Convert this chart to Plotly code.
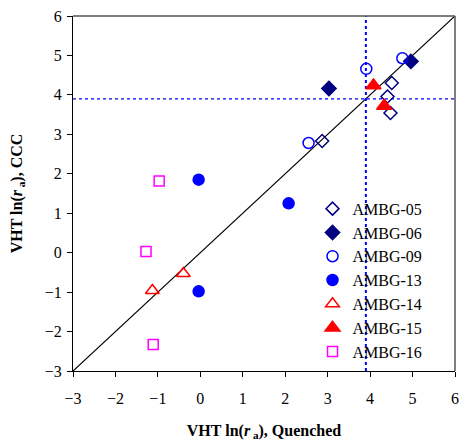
import plotly.graph_objects as go

# Sample data: VHT ln(r_a) quenched (x) vs CCC (y)
names = ["AMBG-05", "AMBG-06", "AMBG-09", "AMBG-13", "AMBG-14", "AMBG-15", "AMBG-16"]
x05 = [2.87, 4.41, 4.51, 4.48]
y05 = [2.83, 3.96, 4.30, 3.54]
x06 = [3.03, 4.96]
y06 = [4.16, 4.85]
x09 = [2.55, 3.91, 4.76]
y09 = [2.78, 4.66, 4.93]
x13 = [-0.04, -0.04, 2.08]
y13 = [1.85, -0.98, 1.25]
x14 = [-1.13, -0.40]
y14 = [-0.96, -0.53]
x15 = [4.08, 4.33]
y15 = [4.24, 3.72]
x16 = [-0.97, -1.28, -1.11]
y16 = [1.82, 0.03, -2.33]
threshold = 3.9
tick_vals = [-3, -2, -1, 0, 1, 2, 3, 4, 5, 6]

series = [
    (x05, y05, "diamond-open", "#000080", 10),
    (x06, y06, "diamond", "#000080", 11),
    (x09, y09, "circle-open", "#0000FF", 11),
    (x13, y13, "circle", "#0000FF", 11),
    (x14, y14, "triangle-up-open", "#FF0000", 12),
    (x15, y15, "triangle-up", "#FF0000", 13),
    (x16, y16, "square-open", "#FF00FF", 10),
]

fig = go.Figure()

# 1:1 line
fig.add_trace(go.Scatter(x=[-3, 6], y=[-3, 6], mode="lines",
                         line=dict(color="black", width=1.2), showlegend=False,
                         hoverinfo="skip"))
# threshold guides
fig.add_trace(go.Scatter(x=[threshold, threshold], y=[-3, 6], mode="lines",
                         line=dict(color="#0000FF", width=2, dash="dot"),
                         showlegend=False, hoverinfo="skip"))
fig.add_trace(go.Scatter(x=[-3, 6], y=[threshold, threshold], mode="lines",
                         line=dict(color="#0000FF", width=1.2, dash="dot"),
                         showlegend=False, hoverinfo="skip"))

for name, (xs, ys, sym, col, sz) in zip(names, series):
    fig.add_trace(go.Scatter(
        x=xs, y=ys, mode="markers", name=name,
        marker=dict(symbol=sym, color=col, size=sz,
                    line=dict(color=col, width=1.5)),
    ))

axis_common = dict(
    range=[-3, 6], tickvals=tick_vals, ticks="outside", ticklen=5,
    tickcolor="black", showgrid=False, zeroline=False,
    showline=True, linecolor="black", linewidth=1.2,
    tickfont=dict(family="Liberation Serif", size=16, color="black"),
)

fig.update_xaxes(**axis_common, ticklabelstandoff=8,
                 title=dict(text="<b>VHT ln(<i>r</i><sub> a</sub>), Quenched</b>",
                            font=dict(family="Liberation Serif", size=16, color="black"),
                            standoff=18))
fig.update_yaxes(**axis_common, ticklabelstandoff=2,
                 title=dict(text="<b>VHT ln(<i>r</i><sub> a</sub>), CCC</b>",
                            font=dict(family="Liberation Serif", size=16, color="black"),
                            standoff=18))

# top and right frame
fig.add_shape(type="line", xref="paper", yref="paper", x0=0, x1=1, y0=1, y1=1,
              line=dict(color="#555555", width=1.5))
fig.add_shape(type="line", xref="paper", yref="paper", x0=1, x1=1, y0=0, y1=1,
              line=dict(color="#555555", width=1.5))

fig.update_layout(
    width=464, height=441,
    margin=dict(l=73, r=5, t=16, b=69),
    plot_bgcolor="white", paper_bgcolor="white",
    legend=dict(x=0.627, y=0.505, xanchor="left", yanchor="top",
                bgcolor="rgba(255,255,255,0)",
                font=dict(family="Liberation Serif", size=16, color="black"),
                itemwidth=30, tracegroupgap=0),
)

fig.write_html("out.html")
